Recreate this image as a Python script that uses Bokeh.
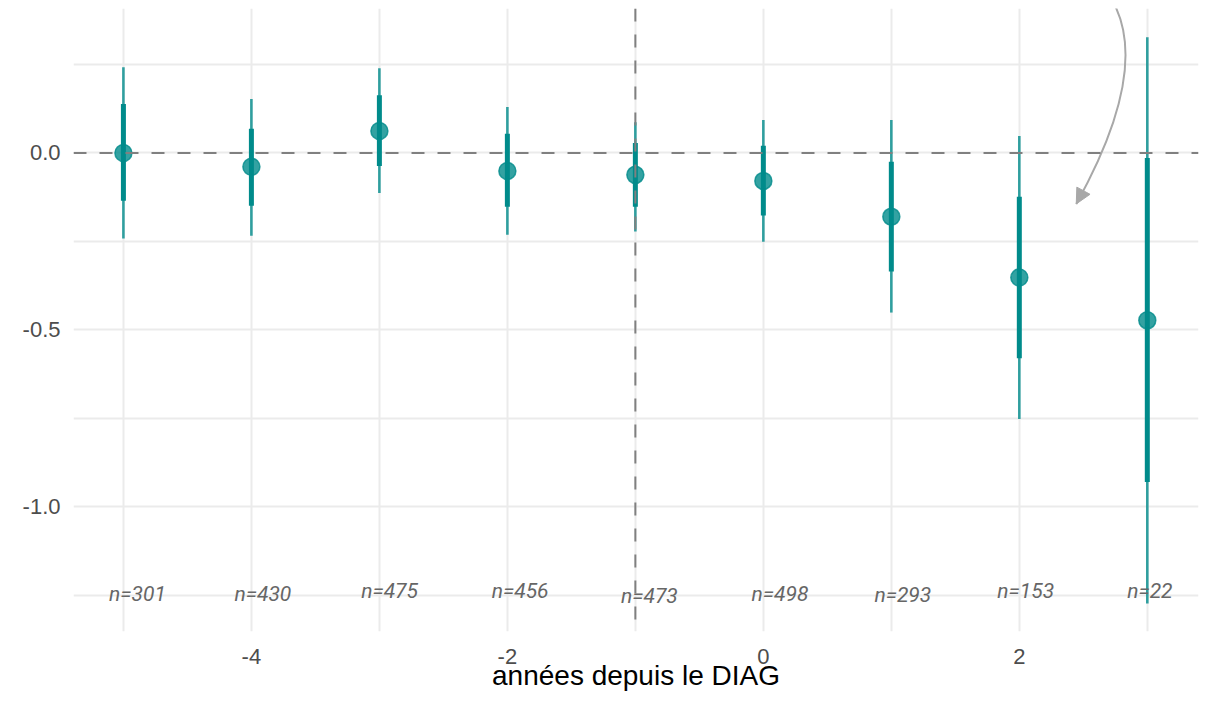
from bokeh.plotting import figure
from bokeh.models import (ColumnDataSource, FixedTicker, Span, Arrow, NormalHead, Range1d,
                          CustomJSTickFormatter)
from bokeh.core.properties import value
from bokeh.embed import file_html
from bokeh.resources import INLINE

# ---- data ----
years = [-5, -4, -3, -2, -1, 0, 1, 2, 3]
estimate = [0.0, -0.039, 0.062, -0.051, -0.062, -0.079, -0.180, -0.352, -0.473]
ci_outer_lo = [-0.242, -0.234, -0.113, -0.231, -0.222, -0.251, -0.451, -0.752, -1.273]
ci_outer_hi = [0.242, 0.152, 0.239, 0.130, 0.087, 0.093, 0.093, 0.048, 0.327]
ci_inner_lo = [-0.135, -0.149, -0.037, -0.152, -0.152, -0.177, -0.335, -0.580, -0.930]
ci_inner_hi = [0.138, 0.068, 0.163, 0.054, 0.028, 0.020, -0.025, -0.124, -0.014]
n_labels = ["n=301", "n=430", "n=475", "n=456", "n=473", "n=498", "n=293", "n=153", "n=22"]
n_label_x = [-4.89, -3.91, -2.92, -1.90, -0.89, 0.13, 1.09, 2.05, 3.02]
n_label_y = [-1.245, -1.245, -1.237, -1.237, -1.253, -1.245, -1.248, -1.237, -1.237]

x_major = [-4, -2, 0, 2]
x_minor = [-5, -3, -1, 1, 3]
y_major = [-1.0, -0.5, 0.0]
y_minor = [-1.25, -0.75, -0.25, 0.25]
x_label = "années depuis le DIAG"
ref_year = -1
ref_value = 0.0

# annotation arrow (curved), in data units
arrow_start = (2.703, 0.445)
arrow_c1 = (2.930, 0.318)
arrow_c2 = (2.852, 0.121)
arrow_end = (2.445, -0.144)

src = ColumnDataSource(dict(
    x=years, est=estimate,
    olo=ci_outer_lo, ohi=ci_outer_hi,
    ilo=ci_inner_lo, ihi=ci_inner_hi,
))
lab = ColumnDataSource(dict(x=n_label_x, y=n_label_y, t=n_labels))

p = figure(width=1202, height=693, output_backend="svg", toolbar_location=None,
           x_range=Range1d(-5.39, 3.4), y_range=Range1d(-1.352, 0.408))
p.min_border_left = 73
p.min_border_right = 4
p.min_border_top = 8
p.min_border_bottom = 60
p.outline_line_color = None
p.background_fill_color = "white"
p.border_fill_color = "white"

grid_col = "#ebebeb"
p.xaxis.ticker = FixedTicker(ticks=x_major, minor_ticks=x_minor)
p.yaxis.ticker = FixedTicker(ticks=y_major, minor_ticks=y_minor)
for g in (p.xgrid, p.ygrid):
    g.grid_line_color = grid_col
    g.grid_line_width = 2
    g.minor_grid_line_color = grid_col
    g.minor_grid_line_width = 2

for ax in (p.xaxis, p.yaxis):
    ax.axis_line_color = None
    ax.major_tick_line_color = None
    ax.minor_tick_line_color = None
    ax.major_label_text_font = "Liberation Sans"
    ax.major_label_text_font_size = "22px"
    ax.major_label_text_color = "#4d4d4d"
p.yaxis.major_label_standoff = 7
p.xaxis.major_label_standoff = 11
p.yaxis.formatter = CustomJSTickFormatter(code="return tick.toFixed(1);")
p.xaxis.formatter = CustomJSTickFormatter(code="return tick.toFixed(0);")

p.xaxis.axis_label = x_label
p.xaxis.axis_label_text_font = "Liberation Sans"
p.xaxis.axis_label_text_font_size = "28px"
p.xaxis.axis_label_text_font_style = "normal"
p.xaxis.axis_label_text_color = "#000000"
p.xaxis.axis_label_standoff = -7

teal = "#008b8b"
p.segment(x0="x", y0="olo", x1="x", y1="ohi", source=src,
          line_color=teal, line_alpha=0.8, line_width=2.6, line_cap="butt")
p.segment(x0="x", y0="ilo", x1="x", y1="ihi", source=src,
          line_color=teal, line_alpha=1.0, line_width=5, line_cap="butt")
p.scatter(x="x", y="est", source=src, size=17, fill_color=teal, fill_alpha=0.8,
          line_color=teal, line_alpha=0.8, line_width=1.5)

p.text(x="x", y="y", text="t", source=lab, text_align="center", text_baseline="middle",
       text_font=value("Roboto"), text_font_style="italic", text_font_size="21px",
       text_color="#666666")

p.add_layout(Span(location=ref_value, dimension="width", line_color="#808080",
                  line_width=2, line_dash="13 13"))
p.add_layout(Span(location=ref_year, dimension="height", line_color="#808080",
                  line_width=2, line_dash="13 13"))

arrow_col = "#a8a8a8"
p.bezier(x0=[arrow_start[0]], y0=[arrow_start[1]], x1=[arrow_end[0]], y1=[arrow_end[1]],
         cx0=[arrow_c1[0]], cy0=[arrow_c1[1]], cx1=[arrow_c2[0]], cy1=[arrow_c2[1]],
         line_color=arrow_col, line_width=2)
head_from = (arrow_end[0] + 0.018, arrow_end[1] + 0.012)
p.add_layout(Arrow(end=NormalHead(size=15, fill_color=arrow_col, line_color=arrow_col, line_width=1),
                   x_start=head_from[0], y_start=head_from[1],
                   x_end=arrow_end[0], y_end=arrow_end[1],
                   line_color=arrow_col, line_width=2))

open("out.html", "w").write(file_html(p, INLINE))
